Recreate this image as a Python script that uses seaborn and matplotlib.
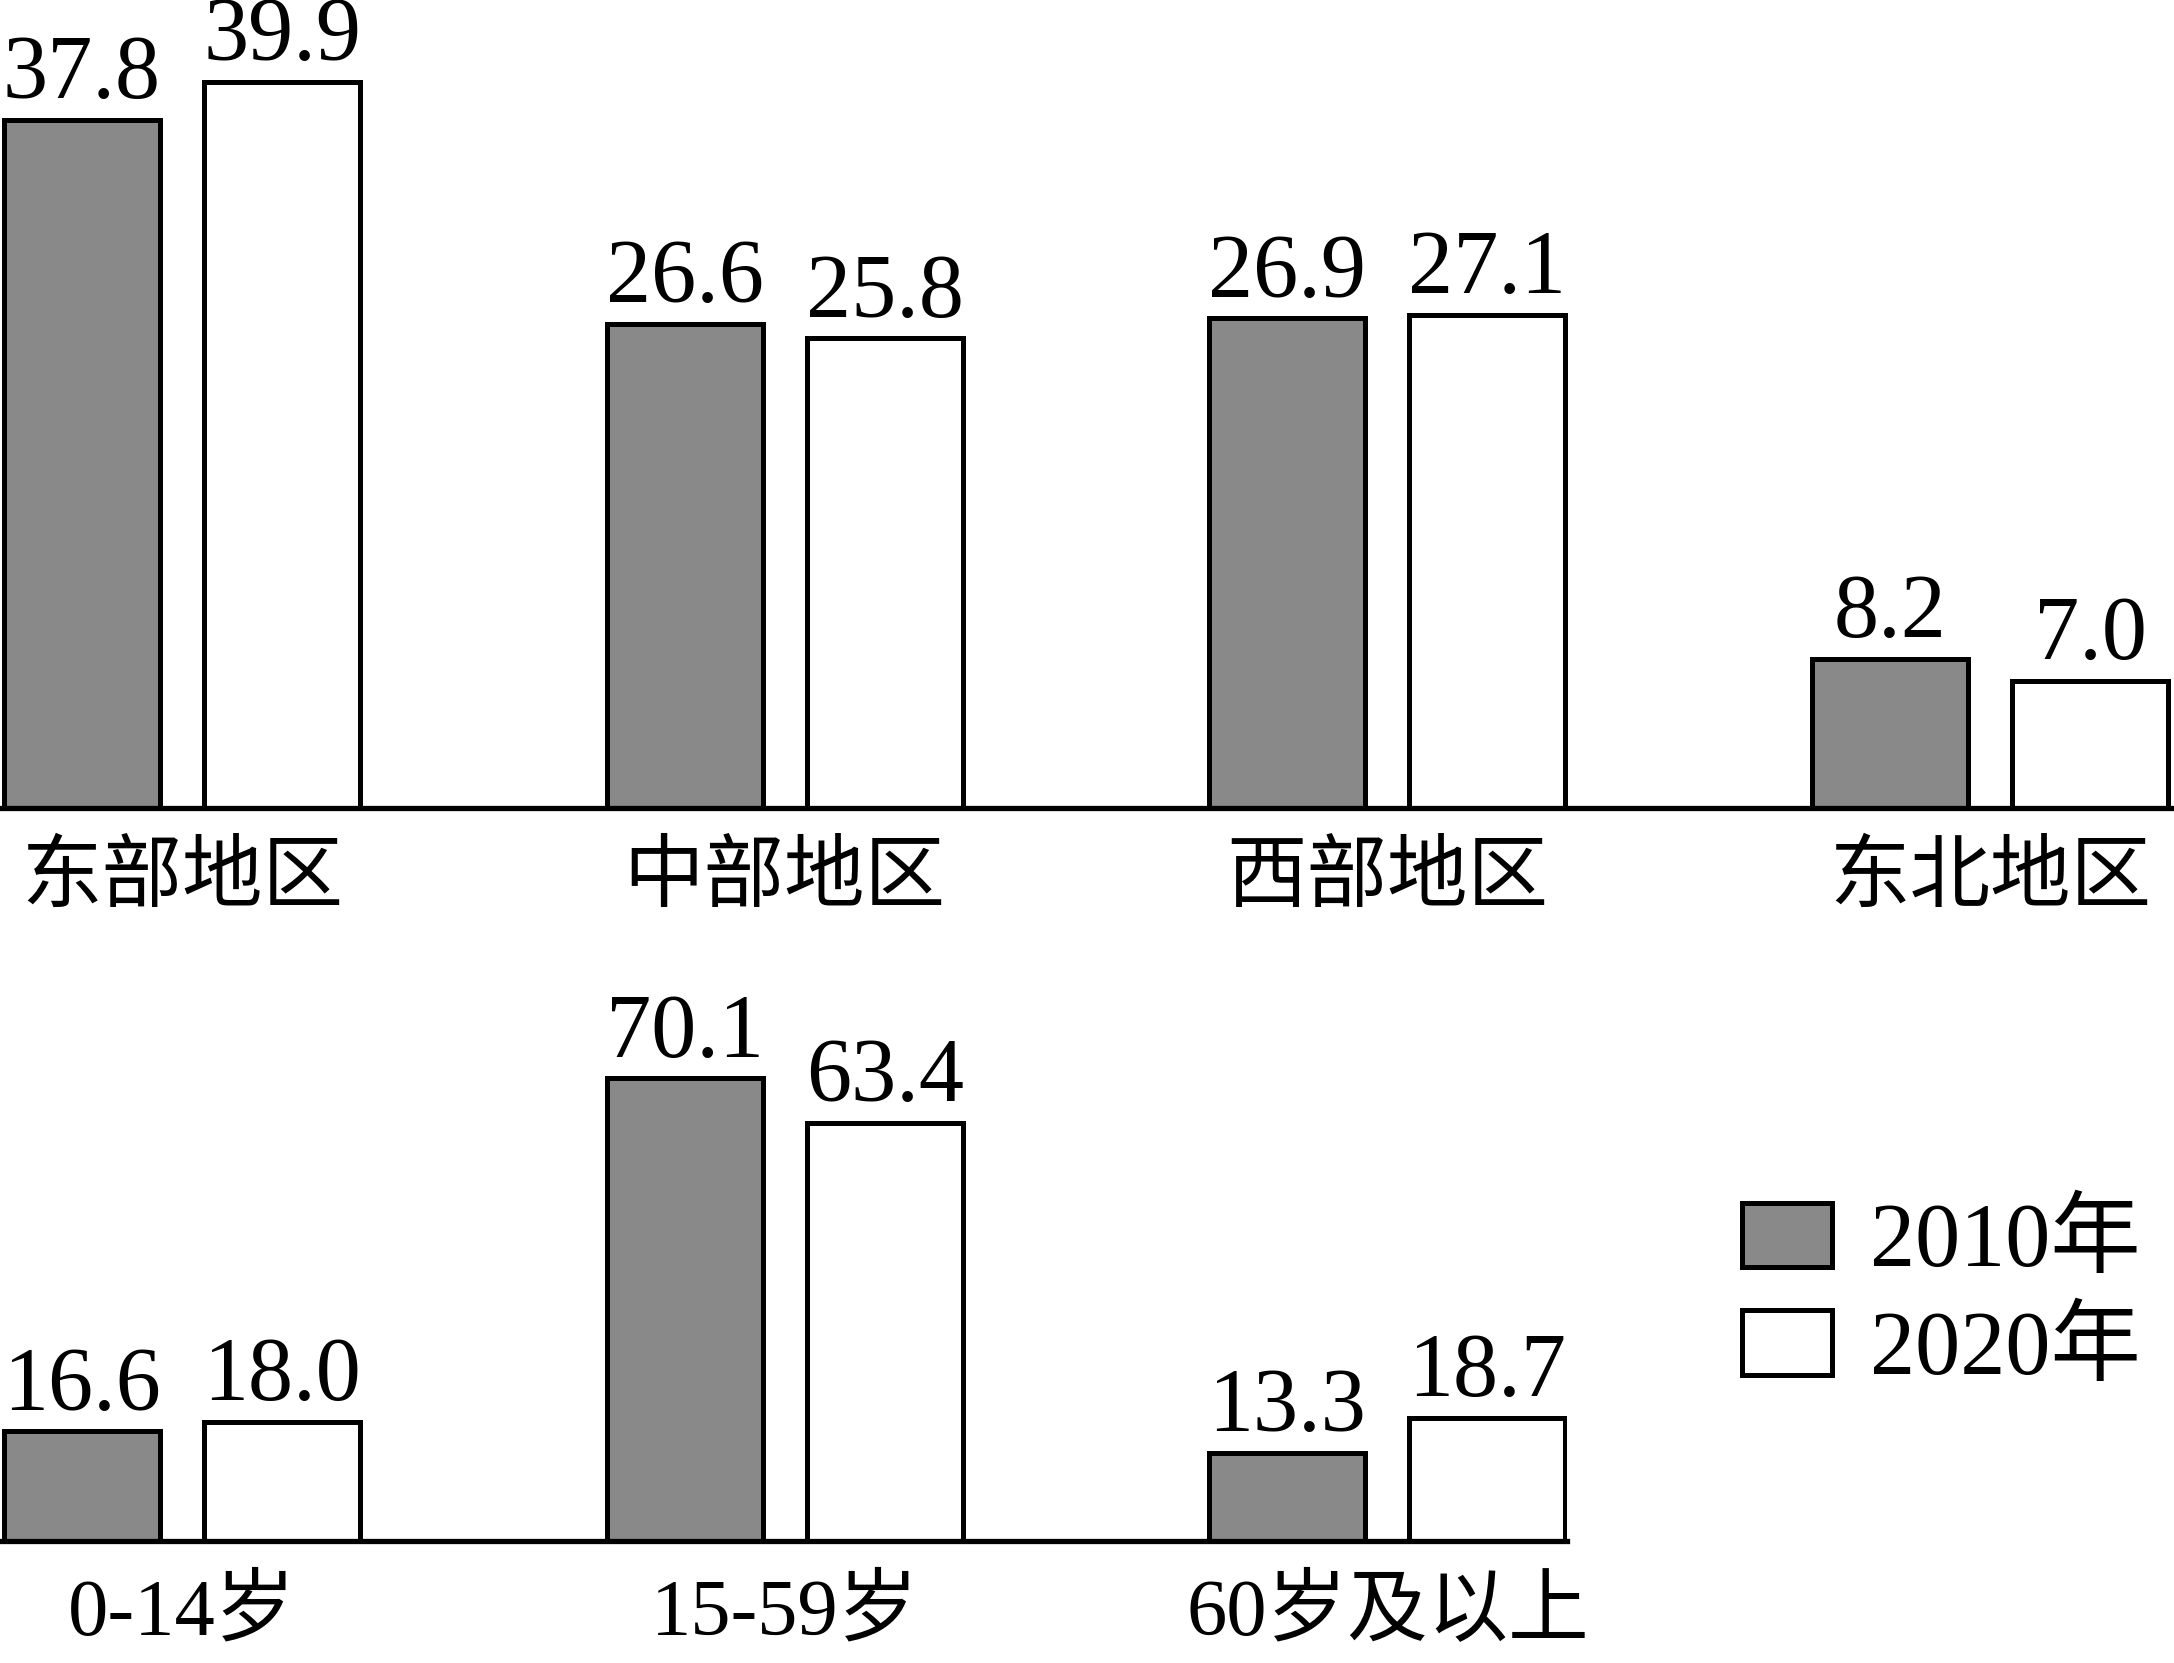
import numpy as np
import pandas as pd
import matplotlib
matplotlib.use('Agg')
import matplotlib.pyplot as plt
from matplotlib.patches import Patch
import seaborn as sns

# ---- data ----
regions = ['东部地区', '中部地区', '西部地区', '东北地区']
region_2010 = [37.8, 26.6, 26.9, 8.2]
region_2020 = [39.9, 25.8, 27.1, 7.0]

ages = ['0-14岁', '15-59岁', '60岁及以上']
age_2010 = [16.6, 70.1, 13.3]
age_2020 = [18.0, 63.4, 18.7]

years = ['2010年', '2020年']
colors = ['#898989', '#ffffff']

sns.set_theme(style='white')
plt.rcParams['font.family'] = ['Liberation Serif', 'Noto Sans CJK SC']
plt.rcParams['text.color'] = 'black'
plt.rcParams['xtick.color'] = 'black'

W, H = 2174, 1663
fig = plt.figure(figsize=(W / 100, H / 100), dpi=100)

d = 602.67   # px per category
c0 = 182     # px of first category centre


def axes_rect(left_px, right_px, top_px, bottom_px):
    return [left_px / W, 1 - bottom_px / H, (right_px - left_px) / W, (bottom_px - top_px) / H]


ax1 = fig.add_axes(axes_rect(0, 2174, 0, 808))
ax2 = fig.add_axes(axes_rect(0, 1567, 1000, 1541))

df1 = pd.DataFrame({'cat': regions * 2,
                    'year': [years[0]] * len(regions) + [years[1]] * len(regions),
                    'val': region_2010 + region_2020})
df2 = pd.DataFrame({'cat': ages * 2,
                    'year': [years[0]] * len(ages) + [years[1]] * len(ages),
                    'val': age_2010 + age_2020})

pal = dict(zip(years, colors))
LW = 3.6
FS_VAL = 65
FS_TICK = 58

for ax, df, xr, ymax in [(ax1, df1, 2174, 808 / 18.2), (ax2, df2, 1567, 541 / 6.6)]:
    sns.barplot(data=df, x='cat', y='val', hue='year', hue_order=years, palette=pal,
                saturation=1, width=0.664, gap=0.22, edgecolor='black', linewidth=LW,
                errorbar=None, legend=False, ax=ax)
    ax.set_xlim(-c0 / d, (xr - c0) / d)
    ax.set_ylim(0, ymax)
    for cont in ax.containers:
        ax.bar_label(cont, fmt='%.1f', padding=2, fontsize=FS_VAL, color='black')
    ax.set_yticks([])
    ax.set_xlabel('')
    ax.set_ylabel('')
    ax.tick_params(axis='x', length=0, pad=26, labelsize=FS_TICK, colors='black')
    for s in ['top', 'right', 'left']:
        ax.spines[s].set_visible(False)
    ax.spines['bottom'].set_linewidth(3.8)
    ax.spines['bottom'].set_color('black')
    ax.patch.set_alpha(0)

handles = [Patch(facecolor=c, edgecolor='black', linewidth=LW) for c in colors]
leg = fig.legend(handles, years, loc='upper left', bbox_to_anchor=(1742 / W, 1 - 1202 / H),
                 frameon=False, fontsize=FS_VAL, handlelength=1.0, handleheight=0.72,
                 handletextpad=0.42, labelspacing=0.27, borderpad=0, borderaxespad=0)
for t in leg.get_texts():
    t.set_color('black')

fig.savefig('out.png', dpi=100, facecolor='white')
